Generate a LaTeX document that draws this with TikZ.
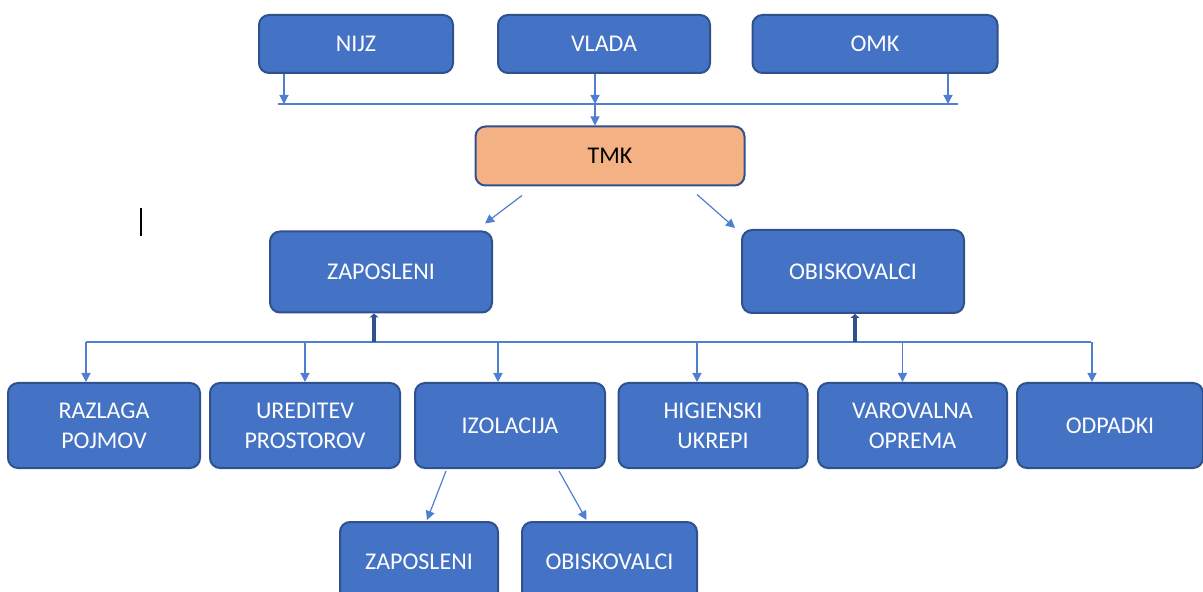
\documentclass[tikz,border=0pt]{standalone}
\usepackage{fontspec}
\setmainfont{Carlito}
\usetikzlibrary{arrows.meta}

\definecolor{boxblue}{HTML}{4472C4}
\definecolor{boxedge}{HTML}{2F528F}
\definecolor{tmkfill}{HTML}{F4B183}
\definecolor{linkblue}{HTML}{4E7FD0}

\tikzset{
  box/.style={draw=boxedge, line width=1pt, fill=boxblue, rounded corners=5pt,
    text=white, font=\fontsize{12}{15}\selectfont, align=center, inner sep=0pt},
  link/.style={draw=linkblue, line width=0.6pt, -{Triangle[width=4.5pt,length=4.5pt]}},
  uplink/.style={draw=boxedge, line width=2pt, -{Triangle[width=4.5pt,length=2pt]}}
}

\begin{document}
\begin{tikzpicture}[x=0.5pt,y=-0.5pt]
  \useasboundingbox (0,0) rectangle (1203,592);
  % top row
  \node[box, minimum width=97pt, minimum height=29pt] (nijz) at (356,44) {NIJZ};
  \node[box, minimum width=106pt, minimum height=29pt] (vlada) at (604,44) {VLADA};
  \node[box, minimum width=122.5pt, minimum height=29pt] (omk) at (875,44) {OMK};
  \node[box, fill=tmkfill, text=black, minimum width=134.5pt, minimum height=29.5pt] (tmk) at (610,156) {TMK};
  \coordinate (busL) at (278,104);
  \coordinate (busR) at (958,104);
  \draw[draw=linkblue, line width=0.6pt] (busL) -- (busR);
  \draw[link] ([xshift=-36pt]nijz.south) -- ([xshift=-36pt]nijz.south |- busL);
  \draw[link] ([xshift=-4.5pt]vlada.south) -- ([xshift=-4.5pt]vlada.south |- busL);
  \draw[link] ([xshift=36.5pt]omk.south) -- ([xshift=36.5pt]omk.south |- busL);
  \draw[link] ([xshift=-4.5pt]vlada.south |- busL) -- ([xshift=-7.5pt]tmk.north);

  % middle row
  \node[box, minimum width=111pt, minimum height=40.5pt] (zap) at (381,272) {ZAPOSLENI};
  \node[box, minimum width=111pt, minimum height=41.5pt] (obi) at (853,271.5) {OBISKOVALCI};
  \draw[link] ([xshift=-44pt,yshift=-4.5pt]tmk.south) -- ([xshift=52pt,yshift=3.5pt]zap.north);
  \draw[link] ([xshift=43.5pt,yshift=-4pt]tmk.south) -- ([xshift=-59pt,yshift=0.5pt]obi.north);

  % bottom row
  \node[box, minimum width=96pt, minimum height=42.5pt] (raz) at (104,425.5) {RAZLAGA\\POJMOV};
  \node[box, minimum width=95pt, minimum height=42.5pt] (ure) at (305,425.5) {UREDITEV\\PROSTOROV};
  \node[box, minimum width=95pt, minimum height=42.5pt] (iz) at (510,425.5) {IZOLACIJA};
  \node[box, minimum width=94.5pt, minimum height=42.5pt] (hig) at (713,425.5) {HIGIENSKI\\UKREPI};
  \node[box, minimum width=94.5pt, minimum height=42.5pt] (var) at (912.5,425.5) {VAROVALNA\\OPREMA};
  \node[box, minimum width=93pt, minimum height=42.5pt] (odp) at (1110,425.5) {ODPADKI};
  \coordinate (bus2L) at (86,342);
  \coordinate (bus2R) at (1091,342);
  \draw[draw=linkblue, line width=0.6pt] (bus2L) -- (bus2R);
  \foreach \n/\dx in {raz/-9,ure/0,iz/-6,hig/-8,var/-5,odp/-9}
    \draw[link] ([xshift=\dx pt]\n.north |- bus2L) -- ([xshift=\dx pt]\n.north);
  \draw[uplink] ([xshift=-3.5pt]zap.south |- bus2L) -- ([xshift=-3.5pt]zap.south);
  \draw[uplink] ([xshift=1pt]obi.south |- bus2L) -- ([xshift=1pt]obi.south);

  % under IZOLACIJA
  \node[box, minimum width=79pt, minimum height=40pt] (zap2) at (419,562) {ZAPOSLENI};
  \node[box, minimum width=87.5pt, minimum height=40pt] (obi2) at (609.5,562) {OBISKOVALCI};
  \draw[link] ([xshift=-32pt,yshift=-1pt]iz.south) -- ([xshift=4pt,yshift=0.5pt]zap2.north);
  \draw[link] ([xshift=24.5pt,yshift=-1pt]iz.south) -- ([xshift=-11.5pt,yshift=0.5pt]obi2.north);

  % caret
  \draw[line width=0.8pt] (141,208) -- (141,236);
\end{tikzpicture}
\end{document}
